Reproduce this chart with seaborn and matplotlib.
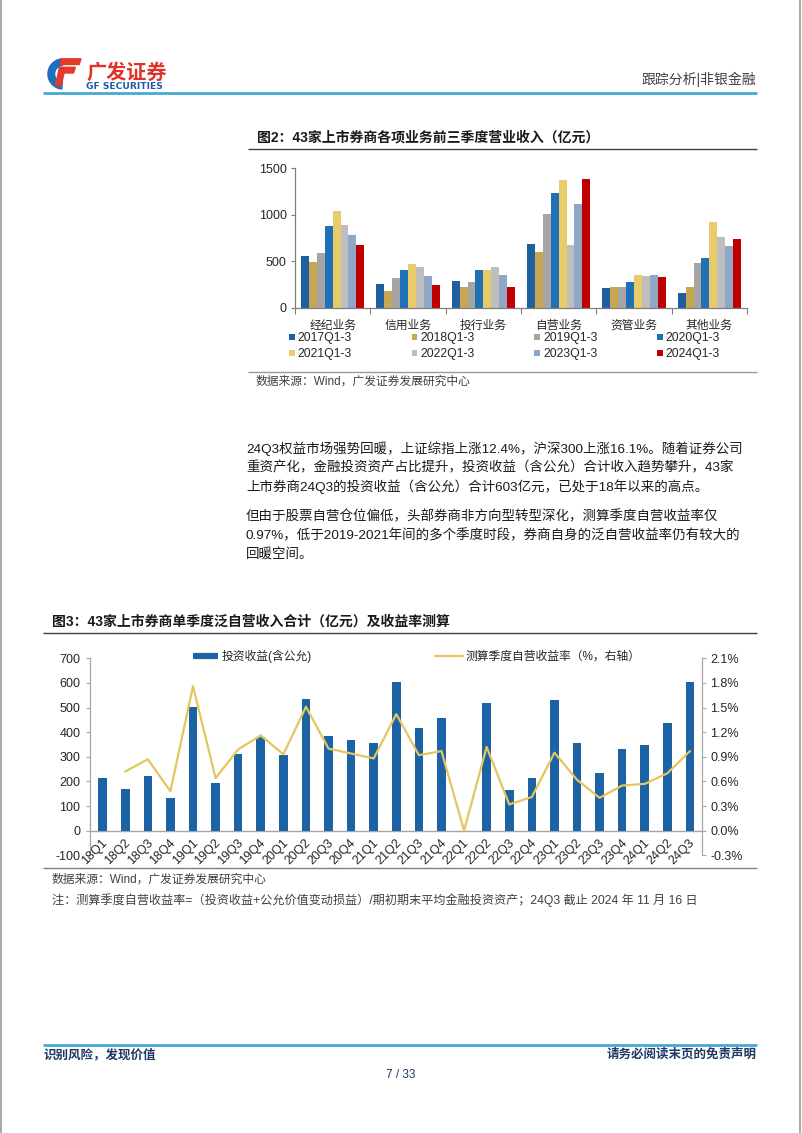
import numpy as np
import pandas as pd
import matplotlib
matplotlib.use("Agg")
import matplotlib.pyplot as plt
import seaborn as sns
from matplotlib.lines import Line2D
from matplotlib.patches import Patch, Wedge, Polygon

# ---------------- data ----------------
businesses = ['经纪业务', '信用业务', '投行业务', '自营业务', '资管业务', '其他业务']
periods = ['2017Q1-3', '2018Q1-3', '2019Q1-3', '2020Q1-3',
           '2021Q1-3', '2022Q1-3', '2023Q1-3', '2024Q1-3']
rev_2017 = [560, 251, 284, 682, 208, 154]
rev_2018 = [495, 179, 222, 596, 226, 226]
rev_2019 = [585, 323, 273, 1005, 226, 477]
rev_2020 = [876, 402, 405, 1234, 280, 531]
rev_2021 = [1044, 467, 405, 1374, 352, 922]
rev_2022 = [886, 438, 434, 678, 341, 761]
rev_2023 = [779, 341, 355, 1116, 348, 660]
rev_2024 = [671, 244, 219, 1389, 334, 739]
period_colors = ['#1F5F9F', '#C8A752', '#A5A5A5', '#2070B5',
                 '#EACB6A', '#BEBEBE', '#8FA8C8', '#C00000']
rev_ticks = [0, 500, 1000, 1500]

quarters = ['18Q1', '18Q2', '18Q3', '18Q4', '19Q1', '19Q2', '19Q3', '19Q4',
            '20Q1', '20Q2', '20Q3', '20Q4', '21Q1', '21Q2', '21Q3', '21Q4',
            '22Q1', '22Q2', '22Q3', '22Q4', '23Q1', '23Q2', '23Q3', '23Q4',
            '24Q1', '24Q2', '24Q3']
invest_income = [214, 170, 221, 131, 501, 192, 310, 382, 309, 536, 383, 369,
                 357, 602, 417, 457, -3, 517, 166, 215, 532, 355, 234, 333,
                 349, 438, 603]
yield_rate = [np.nan, 0.72, 0.87, 0.48, 1.76, 0.64, 0.99, 1.16, 0.93, 1.51,
              1.00, 0.94, 0.88, 1.42, 0.92, 0.97, 0.00, 1.02, 0.32, 0.41,
              0.95, 0.62, 0.40, 0.55, 0.57, 0.70, 0.97]
left_ticks = [-100, 0, 100, 200, 300, 400, 500, 600, 700]
right_ticks = [-0.3, 0.0, 0.3, 0.6, 0.9, 1.2, 1.5, 1.8, 2.1]

para_lines = [
    '24Q3权益市场强势回暖，上证综指上涨12.4%，沪深300上涨16.1%。随着证券公司',
    '重资产化，金融投资资产占比提升，投资收益（含公允）合计收入趋势攀升，43家',
    '上市券商24Q3的投资收益（含公允）合计603亿元，已处于18年以来的高点。',
    '但由于股票自营仓位偏低，头部券商非方向型转型深化，测算季度自营收益率仅',
    '0.97%，低于2019-2021年间的多个季度时段，券商自身的泛自营收益率仍有较大的',
    '回暖空间。',
]

# ---------------- style ----------------
sns.set_theme(style='white')
plt.rcParams['font.family'] = ['Liberation Sans', 'Noto Sans CJK SC', 'DejaVu Sans']
plt.rcParams['axes.unicode_minus'] = False

W, H = 802, 1133
fig = plt.figure(figsize=(W / 100, H / 100), dpi=100)
fig.patch.set_facecolor('white')


def fx(x):
    return x / W


def fy(y):
    return 1 - y / H


def hline(x0, x1, y, color, lw):
    fig.add_artist(Line2D([fx(x0), fx(x1)], [fy(y), fy(y)], transform=fig.transFigure,
                          color=color, lw=lw, solid_capstyle='butt'))


def ftext(x, y, s, **kw):
    fig.text(fx(x), fy(y), s, **kw)


TXT = '#262626'

# page border
for xb in (1, 800):
    fig.add_artist(Line2D([fx(xb), fx(xb)], [0, 1], transform=fig.transFigure,
                          color='#9A9A9A', lw=1.2))

# ---------------- header ----------------
lax = fig.add_axes([fx(46), fy(90), 36 / W, 34 / H])
lax.set_xlim(0, 38)
lax.set_ylim(0, 36)
lax.set_aspect('equal')
lax.axis('off')
lax.add_patch(Wedge((18, 17), 16, 95, 265, width=7, color='#1E6FC0'))
lax.add_patch(Polygon([(16, 33), (37, 33), (35, 27), (15, 27)], color='#E23A2B'))
lax.add_patch(Polygon([(14, 24), (31, 24), (29, 18), (13, 18)], color='#E23A2B'))
lax.add_patch(Polygon([(13, 18), (19, 18), (16, 4), (10, 6)], color='#E23A2B'))

ftext(86, 72, '广发证券', fontsize=14.5, fontweight='bold', color='#E0312A',
      va='center', ha='left', family=['Noto Sans CJK SC'])
ftext(86, 86.5, 'GF SECURITIES', fontsize=6.6, fontweight='bold', color='#1E5AA8',
      va='center', ha='left', family=['DejaVu Sans'])
ftext(756, 79, '跟踪分析|非银金融', fontsize=10, color='#404040', va='center', ha='right')
hline(43, 757, 93, '#45A9D6', 2.0)

# ---------------- chart 1 ----------------
hline(248, 757, 148.7, '#404040', 1.0)
ftext(257, 137, '图2：43家上市券商各项业务前三季度营业收入（亿元）', fontsize=10,
      fontweight='bold', color='#1A1A1A', va='center', ha='left')

rev_all = [rev_2017, rev_2018, rev_2019, rev_2020, rev_2021, rev_2022, rev_2023, rev_2024]
rows = []
for p, vals in zip(periods, rev_all):
    for b, v in zip(businesses, vals):
        rows.append({'业务': b, '期间': p, '收入': v})
df1 = pd.DataFrame(rows)

ax1 = fig.add_axes([fx(295), fy(307.7), 452 / W, (307.7 - 168.3) / H])
sns.barplot(data=df1, x='业务', y='收入', hue='期间', order=businesses,
            hue_order=periods, palette=period_colors, width=0.84, gap=0,
            saturation=1, errorbar=None, legend=False, linewidth=0, ax=ax1)
ax1.set_xlim(-0.5, 5.5)
ax1.set_ylim(0, 1500)
ax1.set_yticks(rev_ticks)
ax1.set_xlabel('')
ax1.set_ylabel('')
for s in ['top', 'right']:
    ax1.spines[s].set_visible(False)
for s in ['left', 'bottom']:
    ax1.spines[s].set_color('#7F7F7F')
    ax1.spines[s].set_linewidth(0.9)
ax1.tick_params(axis='y', length=3, width=0.8, color='#7F7F7F', direction='out',
                labelsize=9, labelcolor=TXT, pad=3, left=True)
ax1.set_xticks(np.arange(-0.5, 6, 1), minor=True)
ax1.tick_params(axis='x', which='major', length=0, labelsize=8.5, labelcolor=TXT, pad=8.5)
ax1.tick_params(axis='x', which='minor', length=4, width=0.8, color='#7F7F7F',
                direction='out', bottom=True)
ax1.grid(False)

# legend chart 1 (row-wise order)
order_idx = [0, 4, 1, 5, 2, 6, 3, 7]
handles = [Patch(facecolor=period_colors[i], edgecolor='none') for i in order_idx]
labels = [periods[i] for i in order_idx]
fig.legend(handles, labels, loc='upper left', bbox_to_anchor=(fx(289), fy(332.5)),
           bbox_transform=fig.transFigure, ncol=4, frameon=False, fontsize=8.8,
           handlelength=0.45, handleheight=0.45, handletextpad=0.25,
           columnspacing=4.9, labelspacing=0.32, borderpad=0, borderaxespad=0,
           labelcolor=TXT)

hline(248, 757, 371.7, '#9A9A9A', 1.0)
ftext(256, 382, '数据来源：Wind，广发证券发展研究中心', fontsize=8.5, color='#404040',
      va='center', ha='left')

# ---------------- paragraph ----------------
para_y = [449, 468, 487, 517, 536, 555]
for y, line in zip(para_y, para_lines):
    ftext(246, y, line, fontsize=9.7, color='#1A1A1A', va='center', ha='left')

# ---------------- chart 2 ----------------
ftext(52, 622, '图3：43家上市券商单季度泛自营收入合计（亿元）及收益率测算', fontsize=10,
      fontweight='bold', color='#1A1A1A', va='center', ha='left')
hline(43, 757, 633, '#404040', 1.0)

BLUE = '#1C63A6'
GOLD = '#E5C55E'
ax2 = fig.add_axes([fx(90), fy(855.3), (701.7 - 90) / W, (855.3 - 658.3) / H])
sns.barplot(x=quarters, y=invest_income, color=BLUE, width=0.38, saturation=1,
            errorbar=None, linewidth=0, ax=ax2)
ax2.set_ylim(-100, 700)
ax2.set_yticks(left_ticks)
ax2.axhline(0, color='#A6A6A6', lw=1.0, zorder=0.5)
for s in ['top', 'right', 'bottom']:
    ax2.spines[s].set_visible(False)
ax2.spines['left'].set_color('#A6A6A6')
ax2.spines['left'].set_linewidth(0.9)
ax2.tick_params(axis='y', length=3, width=0.8, color='#A6A6A6', direction='out',
                labelsize=9, labelcolor=TXT, pad=4, left=True)
ax2.tick_params(axis='x', length=0, labelbottom=False)
ax2.grid(False)

ax2b = ax2.twinx()
sns.lineplot(x=np.arange(len(quarters)), y=yield_rate, color=GOLD, linewidth=1.6,
             ax=ax2b)
ax2b.set_ylim(-0.3, 2.1)
ax2b.set_yticks(right_ticks)
ax2b.set_yticklabels([f'{v:.1f}%' for v in right_ticks])
for s in ['top', 'left', 'bottom']:
    ax2b.spines[s].set_visible(False)
ax2b.spines['right'].set_color('#A6A6A6')
ax2b.spines['right'].set_linewidth(0.9)
ax2b.tick_params(axis='y', length=3, width=0.8, color='#A6A6A6', direction='out',
                 labelsize=9, labelcolor=TXT, pad=3, right=True)
ax2b.grid(False)
ax2b.set_ylabel('')
ax2.set_xlim(-0.56, 26.52)

for i, q in enumerate(quarters):
    ax2.text(i + 0.14, -43, q, rotation=45, ha='right', va='center',
             rotation_mode='anchor', fontsize=9, color=TXT)

ax2.legend(handles=[Line2D([0], [0], color=BLUE, lw=4.5, solid_capstyle='butt')],
           labels=['投资收益(含公允)'], loc='center left',
           bbox_to_anchor=(fx(193), fy(656.7)), bbox_transform=fig.transFigure,
           frameon=False, borderpad=0, borderaxespad=0, handlelength=2.1,
           handletextpad=0.3, fontsize=8.5, labelcolor=TXT)
ax2b.legend(handles=[Line2D([0], [0], color=GOLD, lw=1.6)],
            labels=['测算季度自营收益率（%，右轴）'], loc='center left',
            bbox_to_anchor=(fx(435), fy(656.7)), bbox_transform=fig.transFigure,
            frameon=False, borderpad=0, borderaxespad=0, handlelength=2.4,
            handletextpad=0.2, fontsize=8.5, labelcolor=TXT)

hline(43, 757, 868, '#7F7F7F', 1.0)
ftext(52, 880, '数据来源：Wind，广发证券发展研究中心', fontsize=8.5, color='#404040',
      va='center', ha='left')
ftext(52, 900, '注：测算季度自营收益率=（投资收益+公允价值变动损益）/期初期末平均金融投资资产；'
      '24Q3 截止 2024 年 11 月 16 日', fontsize=8.7, color='#404040', va='center', ha='left')

# ---------------- footer ----------------
hline(43, 757, 1045, '#45A9D6', 2.0)
ftext(43, 1055, '识别风险，发现价值', fontsize=9, color='#203864', va='center', ha='left',
      fontweight='bold')
ftext(757, 1055, '请务必阅读末页的免责声明', fontsize=9, color='#203864', va='center',
      ha='right', fontweight='bold')
ftext(401, 1075, '7 / 33', fontsize=8.5, color='#203864', va='center', ha='center')

fig.savefig('out.png', dpi=100, facecolor='white')
